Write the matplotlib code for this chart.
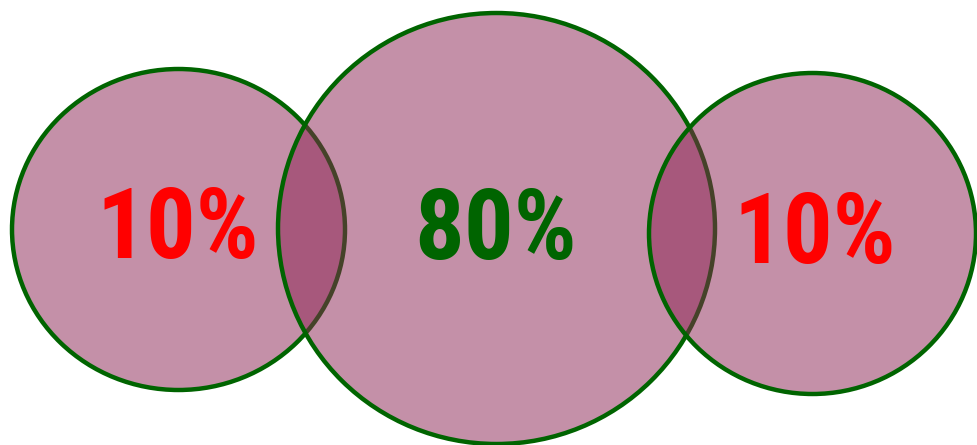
import matplotlib
matplotlib.use("Agg")
import matplotlib.pyplot as plt
from matplotlib.patches import Ellipse

# Data
labels = ["10%", "80%", "10%"]
values = [10, 80, 10]
text_colors = ["#ff0000", "#006400", "#ff0000"]

# Layout (pixel space)
centers_x = [178.5, 496.5, 812.5]
centers_y = [229.5, 228.5, 233.5]
widths = [333, 437, 327]
heights = [321, 431, 321]
text_x = [178, 496, 815]
text_y = [231, 232, 236]

fill_rgba = (0x8b / 255, 0x22 / 255, 0x52 / 255, 0.5)
edge_color = "#006400"

fig = plt.figure(figsize=(9.77, 4.45), dpi=100)
ax = fig.add_axes([0, 0, 1, 1])
ax.set_xlim(0, 977)
ax.set_ylim(445, 0)
ax.axis("off")

for i, v in enumerate(values):
    e = Ellipse((centers_x[i], centers_y[i]), widths[i], heights[i],
                facecolor=fill_rgba, edgecolor=edge_color,
                linewidth=3.2, zorder=i + 1)
    ax.add_patch(e)

for i, lab in enumerate(labels):
    ax.text(text_x[i], text_y[i], lab, ha="center", va="center",
            color=text_colors[i], fontsize=71, fontweight="bold",
            family=["Roboto Condensed", "Liberation Sans"], zorder=10)

fig.savefig("out.png", dpi=100)
